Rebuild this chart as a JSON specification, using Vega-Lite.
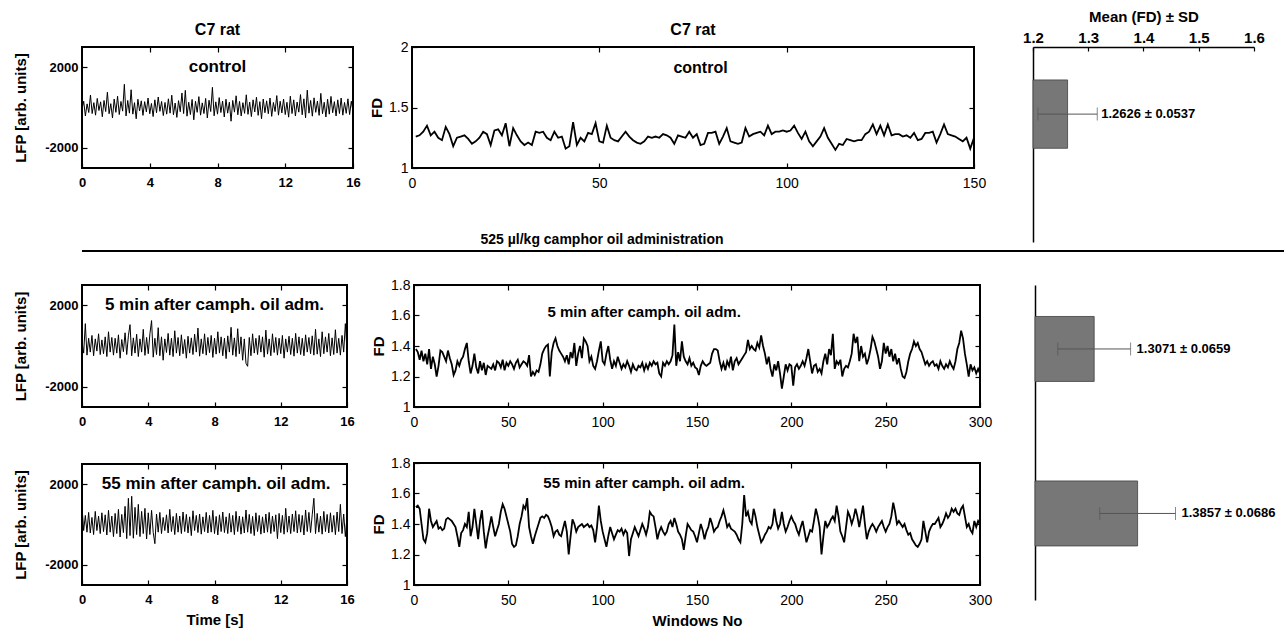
{
"$schema": "https://vega.github.io/schema/vega-lite/v6.json",
"background": "white",
"padding": {"left": 12, "top": 9, "right": 0, "bottom": 0},
"spacing": -9,
"config": {
 "font": "Liberation Sans",
 "view": {"stroke": "black", "strokeWidth": 2},
 "axis": {"grid": false, "domain": false, "labelColor": "black", "titleColor": "black", "tickColor": "black", "tickWidth": 1.2, "tickSize": -5, "labelPadding": 9, "labelFlush": false, "labelOverlap": false, "labelFont": "Liberation Sans", "titleFont": "Liberation Sans", "titleFontWeight": "bold", "titleFontSize": 15},
 "title": {"font": "Liberation Sans", "fontSize": 16, "fontWeight": "bold", "color": "black"},
 "text": {"font": "Liberation Sans"}
},
"datasets": {
"lfpC": [{"t":0,"v":-80},{"t":0.1,"v":310},{"t":0.2,"v":-420},{"t":0.3,"v":180},{"t":0.4,"v":-250},{"t":0.5,"v":620},{"t":0.6,"v":-300},{"t":0.7,"v":240},{"t":0.8,"v":-380},{"t":0.9,"v":450},{"t":1,"v":-150},{"t":1.1,"v":280},{"t":1.2,"v":-460},{"t":1.3,"v":350},{"t":1.4,"v":-200},{"t":1.5,"v":760},{"t":1.6,"v":-310},{"t":1.7,"v":190},{"t":1.8,"v":-520},{"t":1.9,"v":420},{"t":2,"v":-240},{"t":2.1,"v":560},{"t":2.2,"v":-350},{"t":2.3,"v":300},{"t":2.4,"v":-180},{"t":2.5,"v":1150},{"t":2.6,"v":-420},{"t":2.7,"v":350},{"t":2.8,"v":-280},{"t":2.9,"v":880},{"t":3,"v":-330},{"t":3.1,"v":240},{"t":3.2,"v":-560},{"t":3.3,"v":410},{"t":3.4,"v":-170},{"t":3.5,"v":330},{"t":3.6,"v":-390},{"t":3.7,"v":290},{"t":3.8,"v":-220},{"t":3.9,"v":470},{"t":4,"v":-310},{"t":4.1,"v":200},{"t":4.2,"v":-450},{"t":4.3,"v":380},{"t":4.4,"v":-260},{"t":4.5,"v":520},{"t":4.6,"v":-190},{"t":4.7,"v":300},{"t":4.8,"v":-400},{"t":4.9,"v":250},{"t":5,"v":-330},{"t":5.1,"v":430},{"t":5.2,"v":-280},{"t":5.3,"v":610},{"t":5.4,"v":-360},{"t":5.5,"v":220},{"t":5.6,"v":-490},{"t":5.7,"v":340},{"t":5.8,"v":-210},{"t":5.9,"v":720},{"t":6,"v":-300},{"t":6.1,"v":850},{"t":6.2,"v":-430},{"t":6.3,"v":260},{"t":6.4,"v":-350},{"t":6.5,"v":400},{"t":6.6,"v":-610},{"t":6.7,"v":310},{"t":6.8,"v":-240},{"t":6.9,"v":540},{"t":7,"v":-380},{"t":7.1,"v":230},{"t":7.2,"v":-300},{"t":7.3,"v":450},{"t":7.4,"v":-520},{"t":7.5,"v":360},{"t":7.6,"v":-200},{"t":7.7,"v":1000},{"t":7.8,"v":-410},{"t":7.9,"v":280},{"t":8,"v":-330},{"t":8.1,"v":490},{"t":8.2,"v":-250},{"t":8.3,"v":320},{"t":8.4,"v":-470},{"t":8.5,"v":410},{"t":8.6,"v":-280},{"t":8.7,"v":260},{"t":8.8,"v":-680},{"t":8.9,"v":350},{"t":9,"v":-230},{"t":9.1,"v":580},{"t":9.2,"v":-360},{"t":9.3,"v":300},{"t":9.4,"v":-420},{"t":9.5,"v":240},{"t":9.6,"v":-290},{"t":9.7,"v":630},{"t":9.8,"v":-340},{"t":9.9,"v":270},{"t":10,"v":-450},{"t":10.1,"v":380},{"t":10.2,"v":-220},{"t":10.3,"v":510},{"t":10.4,"v":-390},{"t":10.5,"v":290},{"t":10.6,"v":-560},{"t":10.7,"v":420},{"t":10.8,"v":-260},{"t":10.9,"v":330},{"t":11,"v":-310},{"t":11.1,"v":470},{"t":11.2,"v":-440},{"t":11.3,"v":250},{"t":11.4,"v":-200},{"t":11.5,"v":590},{"t":11.6,"v":-380},{"t":11.7,"v":310},{"t":11.8,"v":-270},{"t":11.9,"v":420},{"t":12,"v":-350},{"t":12.1,"v":260},{"t":12.2,"v":-480},{"t":12.3,"v":560},{"t":12.4,"v":-300},{"t":12.5,"v":380},{"t":12.6,"v":-420},{"t":12.7,"v":270},{"t":12.8,"v":-230},{"t":12.9,"v":640},{"t":13,"v":-360},{"t":13.1,"v":430},{"t":13.2,"v":-510},{"t":13.3,"v":860},{"t":13.4,"v":-280},{"t":13.5,"v":350},{"t":13.6,"v":-430},{"t":13.7,"v":480},{"t":13.8,"v":-240},{"t":13.9,"v":320},{"t":14,"v":-390},{"t":14.1,"v":700},{"t":14.2,"v":-310},{"t":14.3,"v":260},{"t":14.4,"v":-470},{"t":14.5,"v":410},{"t":14.6,"v":-330},{"t":14.7,"v":550},{"t":14.8,"v":-260},{"t":14.9,"v":290},{"t":15,"v":-420},{"t":15.1,"v":380},{"t":15.2,"v":-300},{"t":15.3,"v":470},{"t":15.4,"v":-380},{"t":15.5,"v":250},{"t":15.6,"v":-290},{"t":15.7,"v":430},{"t":15.8,"v":-350},{"t":15.9,"v":310},{"t":16,"v":-200}],
"lfp5": [{"t":0,"v":200},{"t":0.1,"v":-350},{"t":0.2,"v":1100},{"t":0.3,"v":-450},{"t":0.4,"v":380},{"t":0.5,"v":-300},{"t":0.6,"v":520},{"t":0.7,"v":-480},{"t":0.8,"v":350},{"t":0.9,"v":-250},{"t":1,"v":600},{"t":1.1,"v":-420},{"t":1.2,"v":300},{"t":1.3,"v":-380},{"t":1.4,"v":450},{"t":1.5,"v":-520},{"t":1.6,"v":700},{"t":1.7,"v":-300},{"t":1.8,"v":420},{"t":1.9,"v":-450},{"t":2,"v":380},{"t":2.1,"v":-350},{"t":2.2,"v":550},{"t":2.3,"v":-600},{"t":2.4,"v":320},{"t":2.5,"v":-280},{"t":2.6,"v":650},{"t":2.7,"v":-420},{"t":2.8,"v":500},{"t":2.9,"v":1050},{"t":3,"v":-480},{"t":3.1,"v":400},{"t":3.2,"v":-350},{"t":3.3,"v":580},{"t":3.4,"v":-520},{"t":3.5,"v":350},{"t":3.6,"v":-300},{"t":3.7,"v":820},{"t":3.8,"v":-460},{"t":3.9,"v":420},{"t":4,"v":-380},{"t":4.1,"v":600},{"t":4.2,"v":1250},{"t":4.3,"v":-550},{"t":4.4,"v":380},{"t":4.5,"v":-420},{"t":4.6,"v":900},{"t":4.7,"v":-480},{"t":4.8,"v":450},{"t":4.9,"v":-700},{"t":5,"v":350},{"t":5.1,"v":-320},{"t":5.2,"v":620},{"t":5.3,"v":-450},{"t":5.4,"v":380},{"t":5.5,"v":-520},{"t":5.6,"v":750},{"t":5.7,"v":-350},{"t":5.8,"v":420},{"t":5.9,"v":-480},{"t":6,"v":550},{"t":6.1,"v":-380},{"t":6.2,"v":320},{"t":6.3,"v":-600},{"t":6.4,"v":480},{"t":6.5,"v":-350},{"t":6.6,"v":400},{"t":6.7,"v":-420},{"t":6.8,"v":580},{"t":6.9,"v":-300},{"t":7,"v":880},{"t":7.1,"v":-500},{"t":7.2,"v":350},{"t":7.3,"v":-380},{"t":7.4,"v":600},{"t":7.5,"v":-450},{"t":7.6,"v":420},{"t":7.7,"v":-330},{"t":7.8,"v":520},{"t":7.9,"v":-560},{"t":8,"v":380},{"t":8.1,"v":-400},{"t":8.2,"v":700},{"t":8.3,"v":-350},{"t":8.4,"v":450},{"t":8.5,"v":-480},{"t":8.6,"v":380},{"t":8.7,"v":-620},{"t":8.8,"v":500},{"t":8.9,"v":-300},{"t":9,"v":920},{"t":9.1,"v":-450},{"t":9.2,"v":400},{"t":9.3,"v":-520},{"t":9.4,"v":850},{"t":9.5,"v":-380},{"t":9.6,"v":450},{"t":9.7,"v":-700},{"t":9.8,"v":350},{"t":9.9,"v":-850},{"t":10,"v":-1000},{"t":10.1,"v":420},{"t":10.2,"v":-480},{"t":10.3,"v":600},{"t":10.4,"v":-350},{"t":10.5,"v":380},{"t":10.6,"v":-420},{"t":10.7,"v":520},{"t":10.8,"v":-300},{"t":10.9,"v":450},{"t":11,"v":-550},{"t":11.1,"v":780},{"t":11.2,"v":-400},{"t":11.3,"v":350},{"t":11.4,"v":-480},{"t":11.5,"v":600},{"t":11.6,"v":-320},{"t":11.7,"v":420},{"t":11.8,"v":-450},{"t":11.9,"v":380},{"t":12,"v":-380},{"t":12.1,"v":520},{"t":12.2,"v":-600},{"t":12.3,"v":350},{"t":12.4,"v":-300},{"t":12.5,"v":480},{"t":12.6,"v":-420},{"t":12.7,"v":380},{"t":12.8,"v":-500},{"t":12.9,"v":620},{"t":13,"v":-350},{"t":13.1,"v":450},{"t":13.2,"v":-420},{"t":13.3,"v":380},{"t":13.4,"v":-480},{"t":13.5,"v":550},{"t":13.6,"v":-300},{"t":13.7,"v":420},{"t":13.8,"v":-380},{"t":13.9,"v":500},{"t":14,"v":-450},{"t":14.1,"v":820},{"t":14.2,"v":-400},{"t":14.3,"v":350},{"t":14.4,"v":-520},{"t":14.5,"v":700},{"t":14.6,"v":-380},{"t":14.7,"v":450},{"t":14.8,"v":-300},{"t":14.9,"v":620},{"t":15,"v":-480},{"t":15.1,"v":400},{"t":15.2,"v":-420},{"t":15.3,"v":800},{"t":15.4,"v":-350},{"t":15.5,"v":380},{"t":15.6,"v":-450},{"t":15.7,"v":520},{"t":15.8,"v":-300},{"t":15.9,"v":1100},{"t":16,"v":-250}],
"lfp55": [{"t":0,"v":900},{"t":0.1,"v":-300},{"t":0.2,"v":450},{"t":0.3,"v":-380},{"t":0.4,"v":600},{"t":0.5,"v":-420},{"t":0.6,"v":350},{"t":0.7,"v":-500},{"t":0.8,"v":650},{"t":0.9,"v":-300},{"t":1,"v":420},{"t":1.1,"v":-450},{"t":1.2,"v":580},{"t":1.3,"v":-350},{"t":1.4,"v":480},{"t":1.5,"v":-520},{"t":1.6,"v":700},{"t":1.7,"v":-380},{"t":1.8,"v":420},{"t":1.9,"v":-600},{"t":2,"v":550},{"t":2.1,"v":-450},{"t":2.2,"v":750},{"t":2.3,"v":-620},{"t":2.4,"v":500},{"t":2.5,"v":-400},{"t":2.6,"v":900},{"t":2.7,"v":-700},{"t":2.8,"v":1300},{"t":2.9,"v":-550},{"t":3,"v":1400},{"t":3.1,"v":-680},{"t":3.2,"v":850},{"t":3.3,"v":-500},{"t":3.4,"v":1000},{"t":3.5,"v":-600},{"t":3.6,"v":650},{"t":3.7,"v":-450},{"t":3.8,"v":800},{"t":3.9,"v":-720},{"t":4,"v":580},{"t":4.1,"v":-500},{"t":4.2,"v":700},{"t":4.3,"v":-400},{"t":4.4,"v":-950},{"t":4.5,"v":520},{"t":4.6,"v":-380},{"t":4.7,"v":600},{"t":4.8,"v":-450},{"t":4.9,"v":350},{"t":5,"v":-300},{"t":5.1,"v":480},{"t":5.2,"v":-420},{"t":5.3,"v":750},{"t":5.4,"v":-350},{"t":5.5,"v":400},{"t":5.6,"v":-500},{"t":5.7,"v":550},{"t":5.8,"v":-380},{"t":5.9,"v":420},{"t":6,"v":-450},{"t":6.1,"v":620},{"t":6.2,"v":-350},{"t":6.3,"v":500},{"t":6.4,"v":-420},{"t":6.5,"v":380},{"t":6.6,"v":-550},{"t":6.7,"v":680},{"t":6.8,"v":-300},{"t":6.9,"v":450},{"t":7,"v":-400},{"t":7.1,"v":520},{"t":7.2,"v":-480},{"t":7.3,"v":380},{"t":7.4,"v":-350},{"t":7.5,"v":600},{"t":7.6,"v":-420},{"t":7.7,"v":450},{"t":7.8,"v":-380},{"t":7.9,"v":700},{"t":8,"v":-450},{"t":8.1,"v":400},{"t":8.2,"v":-520},{"t":8.3,"v":480},{"t":8.4,"v":-350},{"t":8.5,"v":620},{"t":8.6,"v":-400},{"t":8.7,"v":380},{"t":8.8,"v":-450},{"t":8.9,"v":550},{"t":9,"v":-380},{"t":9.1,"v":450},{"t":9.2,"v":-500},{"t":9.3,"v":650},{"t":9.4,"v":-350},{"t":9.5,"v":420},{"t":9.6,"v":-480},{"t":9.7,"v":380},{"t":9.8,"v":-420},{"t":9.9,"v":720},{"t":10,"v":-380},{"t":10.1,"v":500},{"t":10.2,"v":-450},{"t":10.3,"v":400},{"t":10.4,"v":-550},{"t":10.5,"v":580},{"t":10.6,"v":-350},{"t":10.7,"v":450},{"t":10.8,"v":-480},{"t":10.9,"v":380},{"t":11,"v":-420},{"t":11.1,"v":520},{"t":11.2,"v":-380},{"t":11.3,"v":600},{"t":11.4,"v":-450},{"t":11.5,"v":420},{"t":11.6,"v":-350},{"t":11.7,"v":480},{"t":11.8,"v":-700},{"t":11.9,"v":550},{"t":12,"v":-400},{"t":12.1,"v":450},{"t":12.2,"v":-480},{"t":12.3,"v":800},{"t":12.4,"v":-380},{"t":12.5,"v":420},{"t":12.6,"v":-450},{"t":12.7,"v":520},{"t":12.8,"v":-350},{"t":12.9,"v":680},{"t":13,"v":-420},{"t":13.1,"v":500},{"t":13.2,"v":-380},{"t":13.3,"v":450},{"t":13.4,"v":-520},{"t":13.5,"v":720},{"t":13.6,"v":-350},{"t":13.7,"v":600},{"t":13.8,"v":-400},{"t":13.9,"v":480},{"t":14,"v":1300},{"t":14.1,"v":-450},{"t":14.2,"v":550},{"t":14.3,"v":-380},{"t":14.4,"v":420},{"t":14.5,"v":-480},{"t":14.6,"v":650},{"t":14.7,"v":-350},{"t":14.8,"v":500},{"t":14.9,"v":-420},{"t":15,"v":580},{"t":15.1,"v":-380},{"t":15.2,"v":450},{"t":15.3,"v":-500},{"t":15.4,"v":620},{"t":15.5,"v":-350},{"t":15.6,"v":1000},{"t":15.7,"v":-450},{"t":15.8,"v":520},{"t":15.9,"v":-600},{"t":16,"v":400}],
"fdC": [{"w":1,"fd":1.26},{"w":2,"fd":1.27},{"w":3,"fd":1.3},{"w":4,"fd":1.35},{"w":5,"fd":1.27},{"w":6,"fd":1.3},{"w":7,"fd":1.25},{"w":8,"fd":1.23},{"w":9,"fd":1.34},{"w":10,"fd":1.28},{"w":11,"fd":1.18},{"w":12,"fd":1.25},{"w":13,"fd":1.26},{"w":14,"fd":1.27},{"w":15,"fd":1.24},{"w":16,"fd":1.2},{"w":17,"fd":1.22},{"w":18,"fd":1.25},{"w":19,"fd":1.3},{"w":20,"fd":1.28},{"w":21,"fd":1.19},{"w":22,"fd":1.31},{"w":23,"fd":1.32},{"w":24,"fd":1.27},{"w":25,"fd":1.37},{"w":26,"fd":1.18},{"w":27,"fd":1.33},{"w":28,"fd":1.27},{"w":29,"fd":1.22},{"w":30,"fd":1.19},{"w":31,"fd":1.21},{"w":32,"fd":1.19},{"w":33,"fd":1.3},{"w":34,"fd":1.29},{"w":35,"fd":1.3},{"w":36,"fd":1.25},{"w":37,"fd":1.23},{"w":38,"fd":1.3},{"w":39,"fd":1.25},{"w":40,"fd":1.26},{"w":41,"fd":1.16},{"w":42,"fd":1.18},{"w":43,"fd":1.38},{"w":44,"fd":1.19},{"w":45,"fd":1.25},{"w":46,"fd":1.22},{"w":47,"fd":1.29},{"w":48,"fd":1.28},{"w":49,"fd":1.37},{"w":50,"fd":1.22},{"w":51,"fd":1.21},{"w":52,"fd":1.35},{"w":53,"fd":1.25},{"w":54,"fd":1.23},{"w":55,"fd":1.22},{"w":56,"fd":1.26},{"w":57,"fd":1.3},{"w":58,"fd":1.26},{"w":59,"fd":1.23},{"w":60,"fd":1.21},{"w":61,"fd":1.2},{"w":62,"fd":1.22},{"w":63,"fd":1.26},{"w":64,"fd":1.25},{"w":65,"fd":1.26},{"w":66,"fd":1.25},{"w":67,"fd":1.28},{"w":68,"fd":1.27},{"w":69,"fd":1.25},{"w":70,"fd":1.2},{"w":71,"fd":1.27},{"w":72,"fd":1.26},{"w":73,"fd":1.25},{"w":74,"fd":1.3},{"w":75,"fd":1.25},{"w":76,"fd":1.28},{"w":77,"fd":1.19},{"w":78,"fd":1.2},{"w":79,"fd":1.29},{"w":80,"fd":1.29},{"w":81,"fd":1.3},{"w":82,"fd":1.2},{"w":83,"fd":1.26},{"w":84,"fd":1.33},{"w":85,"fd":1.22},{"w":86,"fd":1.21},{"w":87,"fd":1.2},{"w":88,"fd":1.21},{"w":89,"fd":1.33},{"w":90,"fd":1.26},{"w":91,"fd":1.28},{"w":92,"fd":1.29},{"w":93,"fd":1.3},{"w":94,"fd":1.27},{"w":95,"fd":1.35},{"w":96,"fd":1.28},{"w":97,"fd":1.3},{"w":98,"fd":1.3},{"w":99,"fd":1.31},{"w":100,"fd":1.3},{"w":101,"fd":1.31},{"w":102,"fd":1.35},{"w":103,"fd":1.29},{"w":104,"fd":1.24},{"w":105,"fd":1.3},{"w":106,"fd":1.22},{"w":107,"fd":1.18},{"w":108,"fd":1.22},{"w":109,"fd":1.26},{"w":110,"fd":1.33},{"w":111,"fd":1.25},{"w":112,"fd":1.2},{"w":113,"fd":1.15},{"w":114,"fd":1.2},{"w":115,"fd":1.19},{"w":116,"fd":1.24},{"w":117,"fd":1.23},{"w":118,"fd":1.22},{"w":119,"fd":1.23},{"w":120,"fd":1.23},{"w":121,"fd":1.28},{"w":122,"fd":1.3},{"w":123,"fd":1.36},{"w":124,"fd":1.28},{"w":125,"fd":1.35},{"w":126,"fd":1.27},{"w":127,"fd":1.36},{"w":128,"fd":1.27},{"w":129,"fd":1.28},{"w":130,"fd":1.28},{"w":131,"fd":1.26},{"w":132,"fd":1.27},{"w":133,"fd":1.25},{"w":134,"fd":1.29},{"w":135,"fd":1.23},{"w":136,"fd":1.24},{"w":137,"fd":1.29},{"w":138,"fd":1.29},{"w":139,"fd":1.3},{"w":140,"fd":1.21},{"w":141,"fd":1.28},{"w":142,"fd":1.36},{"w":143,"fd":1.28},{"w":144,"fd":1.27},{"w":145,"fd":1.26},{"w":146,"fd":1.24},{"w":147,"fd":1.22},{"w":148,"fd":1.25},{"w":149,"fd":1.16},{"w":150,"fd":1.25}],
"fd5": [{"w":1,"fd":1.38},{"w":2,"fd":1.36},{"w":3,"fd":1.31},{"w":4,"fd":1.37},{"w":5,"fd":1.3},{"w":6,"fd":1.35},{"w":7,"fd":1.28},{"w":8,"fd":1.38},{"w":9,"fd":1.25},{"w":10,"fd":1.33},{"w":11,"fd":1.28},{"w":12,"fd":1.2},{"w":13,"fd":1.27},{"w":14,"fd":1.37},{"w":15,"fd":1.36},{"w":16,"fd":1.33},{"w":17,"fd":1.3},{"w":18,"fd":1.37},{"w":19,"fd":1.32},{"w":20,"fd":1.28},{"w":21,"fd":1.21},{"w":22,"fd":1.24},{"w":23,"fd":1.3},{"w":24,"fd":1.27},{"w":25,"fd":1.31},{"w":26,"fd":1.33},{"w":27,"fd":1.38},{"w":28,"fd":1.42},{"w":29,"fd":1.3},{"w":30,"fd":1.22},{"w":31,"fd":1.27},{"w":32,"fd":1.35},{"w":33,"fd":1.26},{"w":34,"fd":1.22},{"w":35,"fd":1.3},{"w":36,"fd":1.24},{"w":37,"fd":1.29},{"w":38,"fd":1.21},{"w":39,"fd":1.27},{"w":40,"fd":1.26},{"w":41,"fd":1.25},{"w":42,"fd":1.28},{"w":43,"fd":1.24},{"w":44,"fd":1.3},{"w":45,"fd":1.29},{"w":46,"fd":1.26},{"w":47,"fd":1.31},{"w":48,"fd":1.24},{"w":49,"fd":1.29},{"w":50,"fd":1.27},{"w":51,"fd":1.3},{"w":52,"fd":1.28},{"w":53,"fd":1.25},{"w":54,"fd":1.29},{"w":55,"fd":1.31},{"w":56,"fd":1.26},{"w":57,"fd":1.28},{"w":58,"fd":1.3},{"w":59,"fd":1.29},{"w":60,"fd":1.27},{"w":61,"fd":1.34},{"w":62,"fd":1.2},{"w":63,"fd":1.23},{"w":64,"fd":1.21},{"w":65,"fd":1.24},{"w":66,"fd":1.23},{"w":67,"fd":1.28},{"w":68,"fd":1.35},{"w":69,"fd":1.38},{"w":70,"fd":1.4},{"w":71,"fd":1.41},{"w":72,"fd":1.2},{"w":73,"fd":1.36},{"w":74,"fd":1.42},{"w":75,"fd":1.45},{"w":76,"fd":1.4},{"w":77,"fd":1.37},{"w":78,"fd":1.35},{"w":79,"fd":1.33},{"w":80,"fd":1.3},{"w":81,"fd":1.34},{"w":82,"fd":1.28},{"w":83,"fd":1.36},{"w":84,"fd":1.32},{"w":85,"fd":1.42},{"w":86,"fd":1.27},{"w":87,"fd":1.35},{"w":88,"fd":1.4},{"w":89,"fd":1.32},{"w":90,"fd":1.45},{"w":91,"fd":1.43},{"w":92,"fd":1.4},{"w":93,"fd":1.3},{"w":94,"fd":1.33},{"w":95,"fd":1.27},{"w":96,"fd":1.25},{"w":97,"fd":1.3},{"w":98,"fd":1.37},{"w":99,"fd":1.43},{"w":100,"fd":1.3},{"w":101,"fd":1.28},{"w":102,"fd":1.35},{"w":103,"fd":1.4},{"w":104,"fd":1.31},{"w":105,"fd":1.25},{"w":106,"fd":1.3},{"w":107,"fd":1.27},{"w":108,"fd":1.33},{"w":109,"fd":1.29},{"w":110,"fd":1.25},{"w":111,"fd":1.28},{"w":112,"fd":1.26},{"w":113,"fd":1.3},{"w":114,"fd":1.27},{"w":115,"fd":1.23},{"w":116,"fd":1.28},{"w":117,"fd":1.25},{"w":118,"fd":1.24},{"w":119,"fd":1.27},{"w":120,"fd":1.26},{"w":121,"fd":1.29},{"w":122,"fd":1.24},{"w":123,"fd":1.28},{"w":124,"fd":1.25},{"w":125,"fd":1.29},{"w":126,"fd":1.27},{"w":127,"fd":1.3},{"w":128,"fd":1.28},{"w":129,"fd":1.29},{"w":130,"fd":1.22},{"w":131,"fd":1.2},{"w":132,"fd":1.29},{"w":133,"fd":1.27},{"w":134,"fd":1.3},{"w":135,"fd":1.28},{"w":136,"fd":1.3},{"w":137,"fd":1.34},{"w":138,"fd":1.54},{"w":139,"fd":1.27},{"w":140,"fd":1.36},{"w":141,"fd":1.3},{"w":142,"fd":1.43},{"w":143,"fd":1.33},{"w":144,"fd":1.3},{"w":145,"fd":1.28},{"w":146,"fd":1.32},{"w":147,"fd":1.27},{"w":148,"fd":1.29},{"w":149,"fd":1.26},{"w":150,"fd":1.25},{"w":151,"fd":1.21},{"w":152,"fd":1.27},{"w":153,"fd":1.3},{"w":154,"fd":1.28},{"w":155,"fd":1.27},{"w":156,"fd":1.28},{"w":157,"fd":1.29},{"w":158,"fd":1.35},{"w":159,"fd":1.38},{"w":160,"fd":1.38},{"w":161,"fd":1.37},{"w":162,"fd":1.3},{"w":163,"fd":1.25},{"w":164,"fd":1.29},{"w":165,"fd":1.24},{"w":166,"fd":1.3},{"w":167,"fd":1.27},{"w":168,"fd":1.33},{"w":169,"fd":1.24},{"w":170,"fd":1.3},{"w":171,"fd":1.32},{"w":172,"fd":1.28},{"w":173,"fd":1.3},{"w":174,"fd":1.32},{"w":175,"fd":1.34},{"w":176,"fd":1.36},{"w":177,"fd":1.44},{"w":178,"fd":1.38},{"w":179,"fd":1.4},{"w":180,"fd":1.38},{"w":181,"fd":1.37},{"w":182,"fd":1.42},{"w":183,"fd":1.39},{"w":184,"fd":1.47},{"w":185,"fd":1.4},{"w":186,"fd":1.35},{"w":187,"fd":1.28},{"w":188,"fd":1.33},{"w":189,"fd":1.25},{"w":190,"fd":1.2},{"w":191,"fd":1.28},{"w":192,"fd":1.24},{"w":193,"fd":1.3},{"w":194,"fd":1.22},{"w":195,"fd":1.12},{"w":196,"fd":1.2},{"w":197,"fd":1.28},{"w":198,"fd":1.24},{"w":199,"fd":1.28},{"w":200,"fd":1.27},{"w":201,"fd":1.14},{"w":202,"fd":1.26},{"w":203,"fd":1.28},{"w":204,"fd":1.25},{"w":205,"fd":1.27},{"w":206,"fd":1.3},{"w":207,"fd":1.27},{"w":208,"fd":1.32},{"w":209,"fd":1.38},{"w":210,"fd":1.3},{"w":211,"fd":1.22},{"w":212,"fd":1.27},{"w":213,"fd":1.28},{"w":214,"fd":1.23},{"w":215,"fd":1.25},{"w":216,"fd":1.22},{"w":217,"fd":1.3},{"w":218,"fd":1.35},{"w":219,"fd":1.28},{"w":220,"fd":1.38},{"w":221,"fd":1.34},{"w":222,"fd":1.48},{"w":223,"fd":1.25},{"w":224,"fd":1.3},{"w":225,"fd":1.28},{"w":226,"fd":1.31},{"w":227,"fd":1.2},{"w":228,"fd":1.25},{"w":229,"fd":1.27},{"w":230,"fd":1.26},{"w":231,"fd":1.3},{"w":232,"fd":1.35},{"w":233,"fd":1.48},{"w":234,"fd":1.42},{"w":235,"fd":1.46},{"w":236,"fd":1.3},{"w":237,"fd":1.4},{"w":238,"fd":1.33},{"w":239,"fd":1.35},{"w":240,"fd":1.28},{"w":241,"fd":1.32},{"w":242,"fd":1.38},{"w":243,"fd":1.46},{"w":244,"fd":1.43},{"w":245,"fd":1.38},{"w":246,"fd":1.33},{"w":247,"fd":1.25},{"w":248,"fd":1.3},{"w":249,"fd":1.42},{"w":250,"fd":1.35},{"w":251,"fd":1.4},{"w":252,"fd":1.33},{"w":253,"fd":1.38},{"w":254,"fd":1.3},{"w":255,"fd":1.35},{"w":256,"fd":1.28},{"w":257,"fd":1.32},{"w":258,"fd":1.25},{"w":259,"fd":1.2},{"w":260,"fd":1.19},{"w":261,"fd":1.23},{"w":262,"fd":1.3},{"w":263,"fd":1.35},{"w":264,"fd":1.38},{"w":265,"fd":1.43},{"w":266,"fd":1.4},{"w":267,"fd":1.42},{"w":268,"fd":1.38},{"w":269,"fd":1.36},{"w":270,"fd":1.32},{"w":271,"fd":1.28},{"w":272,"fd":1.3},{"w":273,"fd":1.27},{"w":274,"fd":1.29},{"w":275,"fd":1.3},{"w":276,"fd":1.27},{"w":277,"fd":1.28},{"w":278,"fd":1.25},{"w":279,"fd":1.3},{"w":280,"fd":1.27},{"w":281,"fd":1.25},{"w":282,"fd":1.28},{"w":283,"fd":1.26},{"w":284,"fd":1.3},{"w":285,"fd":1.27},{"w":286,"fd":1.25},{"w":287,"fd":1.3},{"w":288,"fd":1.38},{"w":289,"fd":1.42},{"w":290,"fd":1.5},{"w":291,"fd":1.45},{"w":292,"fd":1.35},{"w":293,"fd":1.28},{"w":294,"fd":1.2},{"w":295,"fd":1.28},{"w":296,"fd":1.24},{"w":297,"fd":1.26},{"w":298,"fd":1.22},{"w":299,"fd":1.25},{"w":300,"fd":1.22}],
"fd55": [{"w":1,"fd":1.51},{"w":2,"fd":1.52},{"w":3,"fd":1.5},{"w":4,"fd":1.4},{"w":5,"fd":1.3},{"w":6,"fd":1.28},{"w":7,"fd":1.34},{"w":8,"fd":1.5},{"w":9,"fd":1.42},{"w":10,"fd":1.38},{"w":11,"fd":1.4},{"w":12,"fd":1.42},{"w":13,"fd":1.37},{"w":14,"fd":1.38},{"w":15,"fd":1.36},{"w":16,"fd":1.37},{"w":17,"fd":1.43},{"w":18,"fd":1.44},{"w":19,"fd":1.43},{"w":20,"fd":1.42},{"w":21,"fd":1.4},{"w":22,"fd":1.38},{"w":23,"fd":1.32},{"w":24,"fd":1.25},{"w":25,"fd":1.34},{"w":26,"fd":1.36},{"w":27,"fd":1.4},{"w":28,"fd":1.38},{"w":29,"fd":1.48},{"w":30,"fd":1.32},{"w":31,"fd":1.38},{"w":32,"fd":1.5},{"w":33,"fd":1.4},{"w":34,"fd":1.3},{"w":35,"fd":1.42},{"w":36,"fd":1.49},{"w":37,"fd":1.35},{"w":38,"fd":1.24},{"w":39,"fd":1.32},{"w":40,"fd":1.38},{"w":41,"fd":1.45},{"w":42,"fd":1.38},{"w":43,"fd":1.32},{"w":44,"fd":1.36},{"w":45,"fd":1.4},{"w":46,"fd":1.48},{"w":47,"fd":1.53},{"w":48,"fd":1.5},{"w":49,"fd":1.45},{"w":50,"fd":1.4},{"w":51,"fd":1.35},{"w":52,"fd":1.27},{"w":53,"fd":1.25},{"w":54,"fd":1.26},{"w":55,"fd":1.32},{"w":56,"fd":1.4},{"w":57,"fd":1.45},{"w":58,"fd":1.52},{"w":59,"fd":1.5},{"w":60,"fd":1.57},{"w":61,"fd":1.38},{"w":62,"fd":1.32},{"w":63,"fd":1.27},{"w":64,"fd":1.32},{"w":65,"fd":1.36},{"w":66,"fd":1.4},{"w":67,"fd":1.44},{"w":68,"fd":1.45},{"w":69,"fd":1.44},{"w":70,"fd":1.46},{"w":71,"fd":1.45},{"w":72,"fd":1.42},{"w":73,"fd":1.38},{"w":74,"fd":1.32},{"w":75,"fd":1.35},{"w":76,"fd":1.36},{"w":77,"fd":1.33},{"w":78,"fd":1.32},{"w":79,"fd":1.37},{"w":80,"fd":1.42},{"w":81,"fd":1.35},{"w":82,"fd":1.2},{"w":83,"fd":1.32},{"w":84,"fd":1.43},{"w":85,"fd":1.4},{"w":86,"fd":1.35},{"w":87,"fd":1.38},{"w":88,"fd":1.39},{"w":89,"fd":1.4},{"w":90,"fd":1.38},{"w":91,"fd":1.39},{"w":92,"fd":1.4},{"w":93,"fd":1.38},{"w":94,"fd":1.39},{"w":95,"fd":1.36},{"w":96,"fd":1.28},{"w":97,"fd":1.38},{"w":98,"fd":1.52},{"w":99,"fd":1.42},{"w":100,"fd":1.35},{"w":101,"fd":1.3},{"w":102,"fd":1.25},{"w":103,"fd":1.32},{"w":104,"fd":1.38},{"w":105,"fd":1.34},{"w":106,"fd":1.3},{"w":107,"fd":1.33},{"w":108,"fd":1.36},{"w":109,"fd":1.35},{"w":110,"fd":1.37},{"w":111,"fd":1.33},{"w":112,"fd":1.36},{"w":113,"fd":1.34},{"w":114,"fd":1.19},{"w":115,"fd":1.3},{"w":116,"fd":1.34},{"w":117,"fd":1.38},{"w":118,"fd":1.35},{"w":119,"fd":1.32},{"w":120,"fd":1.36},{"w":121,"fd":1.4},{"w":122,"fd":1.37},{"w":123,"fd":1.33},{"w":124,"fd":1.38},{"w":125,"fd":1.48},{"w":126,"fd":1.46},{"w":127,"fd":1.45},{"w":128,"fd":1.38},{"w":129,"fd":1.3},{"w":130,"fd":1.35},{"w":131,"fd":1.38},{"w":132,"fd":1.35},{"w":133,"fd":1.33},{"w":134,"fd":1.35},{"w":135,"fd":1.4},{"w":136,"fd":1.42},{"w":137,"fd":1.38},{"w":138,"fd":1.44},{"w":139,"fd":1.4},{"w":140,"fd":1.35},{"w":141,"fd":1.33},{"w":142,"fd":1.3},{"w":143,"fd":1.23},{"w":144,"fd":1.32},{"w":145,"fd":1.4},{"w":146,"fd":1.38},{"w":147,"fd":1.36},{"w":148,"fd":1.35},{"w":149,"fd":1.32},{"w":150,"fd":1.28},{"w":151,"fd":1.34},{"w":152,"fd":1.4},{"w":153,"fd":1.36},{"w":154,"fd":1.3},{"w":155,"fd":1.35},{"w":156,"fd":1.38},{"w":157,"fd":1.44},{"w":158,"fd":1.4},{"w":159,"fd":1.35},{"w":160,"fd":1.37},{"w":161,"fd":1.38},{"w":162,"fd":1.42},{"w":163,"fd":1.45},{"w":164,"fd":1.49},{"w":165,"fd":1.44},{"w":166,"fd":1.38},{"w":167,"fd":1.4},{"w":168,"fd":1.37},{"w":169,"fd":1.36},{"w":170,"fd":1.35},{"w":171,"fd":1.33},{"w":172,"fd":1.3},{"w":173,"fd":1.28},{"w":174,"fd":1.4},{"w":175,"fd":1.59},{"w":176,"fd":1.45},{"w":177,"fd":1.48},{"w":178,"fd":1.42},{"w":179,"fd":1.4},{"w":180,"fd":1.5},{"w":181,"fd":1.45},{"w":182,"fd":1.38},{"w":183,"fd":1.33},{"w":184,"fd":1.28},{"w":185,"fd":1.3},{"w":186,"fd":1.33},{"w":187,"fd":1.35},{"w":188,"fd":1.38},{"w":189,"fd":1.37},{"w":190,"fd":1.4},{"w":191,"fd":1.5},{"w":192,"fd":1.42},{"w":193,"fd":1.37},{"w":194,"fd":1.4},{"w":195,"fd":1.48},{"w":196,"fd":1.4},{"w":197,"fd":1.35},{"w":198,"fd":1.38},{"w":199,"fd":1.42},{"w":200,"fd":1.45},{"w":201,"fd":1.42},{"w":202,"fd":1.4},{"w":203,"fd":1.36},{"w":204,"fd":1.33},{"w":205,"fd":1.38},{"w":206,"fd":1.42},{"w":207,"fd":1.35},{"w":208,"fd":1.28},{"w":209,"fd":1.32},{"w":210,"fd":1.36},{"w":211,"fd":1.35},{"w":212,"fd":1.42},{"w":213,"fd":1.5},{"w":214,"fd":1.45},{"w":215,"fd":1.38},{"w":216,"fd":1.2},{"w":217,"fd":1.32},{"w":218,"fd":1.42},{"w":219,"fd":1.38},{"w":220,"fd":1.4},{"w":221,"fd":1.43},{"w":222,"fd":1.45},{"w":223,"fd":1.42},{"w":224,"fd":1.52},{"w":225,"fd":1.45},{"w":226,"fd":1.35},{"w":227,"fd":1.32},{"w":228,"fd":1.28},{"w":229,"fd":1.38},{"w":230,"fd":1.48},{"w":231,"fd":1.45},{"w":232,"fd":1.4},{"w":233,"fd":1.44},{"w":234,"fd":1.5},{"w":235,"fd":1.45},{"w":236,"fd":1.38},{"w":237,"fd":1.45},{"w":238,"fd":1.52},{"w":239,"fd":1.4},{"w":240,"fd":1.3},{"w":241,"fd":1.35},{"w":242,"fd":1.38},{"w":243,"fd":1.4},{"w":244,"fd":1.38},{"w":245,"fd":1.35},{"w":246,"fd":1.38},{"w":247,"fd":1.4},{"w":248,"fd":1.42},{"w":249,"fd":1.38},{"w":250,"fd":1.35},{"w":251,"fd":1.38},{"w":252,"fd":1.4},{"w":253,"fd":1.45},{"w":254,"fd":1.54},{"w":255,"fd":1.48},{"w":256,"fd":1.4},{"w":257,"fd":1.42},{"w":258,"fd":1.4},{"w":259,"fd":1.38},{"w":260,"fd":1.4},{"w":261,"fd":1.36},{"w":262,"fd":1.33},{"w":263,"fd":1.34},{"w":264,"fd":1.3},{"w":265,"fd":1.28},{"w":266,"fd":1.26},{"w":267,"fd":1.25},{"w":268,"fd":1.27},{"w":269,"fd":1.3},{"w":270,"fd":1.42},{"w":271,"fd":1.35},{"w":272,"fd":1.28},{"w":273,"fd":1.35},{"w":274,"fd":1.38},{"w":275,"fd":1.4},{"w":276,"fd":1.4},{"w":277,"fd":1.42},{"w":278,"fd":1.44},{"w":279,"fd":1.38},{"w":280,"fd":1.4},{"w":281,"fd":1.43},{"w":282,"fd":1.47},{"w":283,"fd":1.44},{"w":284,"fd":1.46},{"w":285,"fd":1.5},{"w":286,"fd":1.48},{"w":287,"fd":1.5},{"w":288,"fd":1.47},{"w":289,"fd":1.46},{"w":290,"fd":1.5},{"w":291,"fd":1.52},{"w":292,"fd":1.45},{"w":293,"fd":1.38},{"w":294,"fd":1.4},{"w":295,"fd":1.36},{"w":296,"fd":1.34},{"w":297,"fd":1.42},{"w":298,"fd":1.38},{"w":299,"fd":1.42},{"w":300,"fd":1.4}],
"barTop": [{"cond":"control","mean":1.2626,"lo":1.2089,"hi":1.3163,"label":"1.2626 ± 0.0537"}],
"barBot": [{"cond":"5 min","mean":1.3071,"lo":1.2412,"hi":1.373,"label":"1.3071 ± 0.0659"},{"cond":"55 min","mean":1.3857,"lo":1.3171,"hi":1.4543,"label":"1.3857 ± 0.0686"}]
},
"vconcat": [
 {"hconcat": [
  {"width": 271, "height": 121, "title": {"text": "C7 rat", "offset": 8},
   "layer": [
    {"data": {"name": "lfpC"}, "mark": {"type": "line", "color": "black", "strokeWidth": 1},
     "encoding": {
      "x": {"field": "t", "type": "quantitative", "scale": {"domain": [0, 16], "nice": false}, "axis": {"orient": "bottom", "values": [0,4,8,12,16], "title": null, "labelPadding": 13, "labelFontSize": 13, "labelFontWeight": "bold", "labelExpr": "'' + datum.value"}},
      "y": {"field": "v", "type": "quantitative", "scale": {"domain": [-3000, 3000], "nice": false}, "axis": {"orient": "left", "values": [-2000, 2000], "title": "LFP [arb. units]", "titlePadding": 16, "labelFontSize": 13, "labelFontWeight": "bold", "labelExpr": "'' + datum.value"}}}},
    {"data": {"values": [{"x": 8, "y": 2000, "label": "control"}]}, "mark": {"type": "text", "fontSize": 17, "fontWeight": "bold", "color": "black"},
     "encoding": {
      "x": {"field": "x", "type": "quantitative", "scale": {"domain": [0, 16], "nice": false}, "axis": {"orient": "top", "values": [4,8,12], "labels": false, "title": null}},
      "y": {"field": "y", "type": "quantitative", "scale": {"domain": [-3000, 3000], "nice": false}, "axis": {"orient": "right", "values": [-2000, 2000], "labels": false, "title": null}},
      "text": {"field": "label"}}}
   ]},
  {"width": 562, "height": 121, "title": {"text": "C7 rat", "offset": 2},
   "layer": [
    {"data": {"name": "fdC"}, "mark": {"type": "line", "color": "black", "strokeWidth": 1.8},
     "encoding": {
      "x": {"field": "w", "type": "quantitative", "scale": {"domain": [0, 150], "nice": false}, "axis": {"orient": "bottom", "values": [0,50,100,150], "title": null, "labelPadding": 13, "labelFontSize": 14, "labelExpr": "'' + datum.value"}},
      "y": {"field": "fd", "type": "quantitative", "scale": {"domain": [1, 2], "nice": false, "zero": false}, "axis": {"orient": "left", "values": [1, 1.5, 2], "title": "FD", "titlePadding": 4, "labelFontSize": 14, "labelExpr": "'' + datum.value"}}}},
    {"data": {"values": [{"x": 77, "y": 1.83, "label": "control"}]}, "mark": {"type": "text", "fontSize": 16, "fontWeight": "bold", "color": "black"},
     "encoding": {
      "x": {"field": "x", "type": "quantitative", "scale": {"domain": [0, 150], "nice": false}, "axis": {"orient": "top", "values": [50,100], "labels": false, "title": null}},
      "y": {"field": "y", "type": "quantitative", "scale": {"domain": [1, 2], "nice": false, "zero": false}, "axis": {"orient": "right", "values": [1.5], "labels": false, "title": null}},
      "text": {"field": "label"}}}
   ]},
  {"width": 221, "height": 195, "view": {"stroke": null},
   "data": {"name": "barTop"},
   "encoding": {"y": {"field": "cond", "type": "nominal", "scale": {"domain": ["control"], "paddingInner": 0, "paddingOuter": 0.926, "align": 0.26}, "axis": {"domain": true, "domainColor": "black", "domainWidth": 1.5, "ticks": false, "labels": false, "title": null}}},
   "layer": [
    {"mark": {"type": "bar", "fill": "#777777", "stroke": "#404040", "strokeWidth": 0.8},
     "encoding": {"x": {"field": "mean", "type": "quantitative", "scale": {"domain": [1.2, 1.6], "nice": false, "zero": false}, "axis": {"orient": "top", "values": [1.2,1.3,1.4,1.5,1.6], "domain": true, "domainColor": "black", "domainWidth": 1.5, "title": "Mean (FD) ± SD", "labelFontSize": 15, "labelFontWeight": "bold", "labelExpr": "'' + datum.value", "tickSize": -4, "labelPadding": 6, "titlePadding": 6}}, "x2": {"datum": 1.2}}},
    {"mark": {"type": "rule", "color": "#555555", "strokeWidth": 1}, "encoding": {"x": {"field": "lo", "type": "quantitative", "scale": {"domain": [1.2, 1.6], "nice": false, "zero": false}, "axis": {"orient": "top", "values": [1.2,1.3,1.4,1.5,1.6], "domain": true, "domainColor": "black", "domainWidth": 1.5, "title": "Mean (FD) ± SD", "labelFontSize": 15, "labelFontWeight": "bold", "labelExpr": "'' + datum.value", "tickSize": -4, "labelPadding": 6, "titlePadding": 6}}, "x2": {"field": "hi"}}},
    {"mark": {"type": "tick", "orient": "vertical", "color": "#555555", "thickness": 1, "size": 13}, "encoding": {"x": {"field": "lo", "type": "quantitative", "scale": {"domain": [1.2, 1.6], "nice": false, "zero": false}, "axis": {"orient": "top", "values": [1.2,1.3,1.4,1.5,1.6], "domain": true, "domainColor": "black", "domainWidth": 1.5, "title": "Mean (FD) ± SD", "labelFontSize": 15, "labelFontWeight": "bold", "labelExpr": "'' + datum.value", "tickSize": -4, "labelPadding": 6, "titlePadding": 6}}}},
    {"mark": {"type": "tick", "orient": "vertical", "color": "#555555", "thickness": 1, "size": 13}, "encoding": {"x": {"field": "hi", "type": "quantitative", "scale": {"domain": [1.2, 1.6], "nice": false, "zero": false}, "axis": {"orient": "top", "values": [1.2,1.3,1.4,1.5,1.6], "domain": true, "domainColor": "black", "domainWidth": 1.5, "title": "Mean (FD) ± SD", "labelFontSize": 15, "labelFontWeight": "bold", "labelExpr": "'' + datum.value", "tickSize": -4, "labelPadding": 6, "titlePadding": 6}}}},
    {"mark": {"type": "text", "align": "left", "baseline": "middle", "dx": 4, "fontSize": 13, "fontWeight": "bold", "color": "black"}, "encoding": {"x": {"field": "hi", "type": "quantitative", "scale": {"domain": [1.2, 1.6], "nice": false, "zero": false}, "axis": {"orient": "top", "values": [1.2,1.3,1.4,1.5,1.6], "domain": true, "domainColor": "black", "domainWidth": 1.5, "title": "Mean (FD) ± SD", "labelFontSize": 15, "labelFontWeight": "bold", "labelExpr": "'' + datum.value", "tickSize": -4, "labelPadding": 6, "titlePadding": 6}}, "text": {"field": "label"}}}
   ]}
 ], "spacing": 59, "bounds": "flush"},
 {"width": 1204, "height": 34, "view": {"stroke": null},
  "title": {"text": "525 µl/kg camphor oil administration", "fontSize": 14, "offset": 3, "dx": -82},
  "data": {"values": [{}]},
  "mark": {"type": "rule", "color": "black", "strokeWidth": 2},
  "encoding": {"y": {"datum": 1, "type": "quantitative", "scale": {"domain": [0, 1]}, "axis": null}}},
 {"hconcat": [
  {"hconcat": [
   {"vconcat": [
    {"width": 265, "height": 122,
     "layer": [
      {"data": {"name": "lfp5"}, "mark": {"type": "line", "color": "black", "strokeWidth": 1},
       "encoding": {
        "x": {"field": "t", "type": "quantitative", "scale": {"domain": [0, 16], "nice": false}, "axis": {"orient": "bottom", "values": [0,4,8,12,16], "title": null, "labelPadding": 13, "labelFontSize": 13, "labelFontWeight": "bold", "labelExpr": "'' + datum.value"}},
        "y": {"field": "v", "type": "quantitative", "scale": {"domain": [-3000, 3000], "nice": false}, "axis": {"orient": "left", "values": [-2000, 2000], "title": "LFP [arb. units]", "titlePadding": 16, "labelFontSize": 13, "labelFontWeight": "bold", "labelExpr": "'' + datum.value"}}}},
      {"data": {"values": [{"x": 8, "y": 2000, "label": "5 min after camph. oil adm."}]}, "mark": {"type": "text", "fontSize": 17, "fontWeight": "bold", "color": "black"},
       "encoding": {
        "x": {"field": "x", "type": "quantitative", "scale": {"domain": [0, 16], "nice": false}, "axis": {"orient": "top", "values": [4,8,12], "labels": false, "title": null}},
        "y": {"field": "y", "type": "quantitative", "scale": {"domain": [-3000, 3000], "nice": false}, "axis": {"orient": "right", "values": [-2000, 2000], "labels": false, "title": null}},
        "text": {"field": "label"}}}
     ]},
    {"width": 265, "height": 121,
     "layer": [
      {"data": {"name": "lfp55"}, "mark": {"type": "line", "color": "black", "strokeWidth": 1},
       "encoding": {
        "x": {"field": "t", "type": "quantitative", "scale": {"domain": [0, 16], "nice": false}, "axis": {"orient": "bottom", "values": [0,4,8,12,16], "title": "Time [s]", "titlePadding": 6, "labelPadding": 13, "labelFontSize": 13, "labelFontWeight": "bold", "labelExpr": "'' + datum.value"}},
        "y": {"field": "v", "type": "quantitative", "scale": {"domain": [-3000, 3000], "nice": false}, "axis": {"orient": "left", "values": [-2000, 2000], "title": "LFP [arb. units]", "titlePadding": 16, "labelFontSize": 13, "labelFontWeight": "bold", "labelExpr": "'' + datum.value"}}}},
      {"data": {"values": [{"x": 8.1, "y": 2000, "label": "55 min after camph. oil adm."}]}, "mark": {"type": "text", "fontSize": 17, "fontWeight": "bold", "color": "black"},
       "encoding": {
        "x": {"field": "x", "type": "quantitative", "scale": {"domain": [0, 16], "nice": false}, "axis": {"orient": "top", "values": [4,8,12], "labels": false, "title": null}},
        "y": {"field": "y", "type": "quantitative", "scale": {"domain": [-3000, 3000], "nice": false}, "axis": {"orient": "right", "values": [-2000, 2000], "labels": false, "title": null}},
        "text": {"field": "label"}}}
     ]}
   ], "spacing": 33},
   {"vconcat": [
    {"width": 566, "height": 122,
     "layer": [
      {"data": {"name": "fd5"}, "mark": {"type": "line", "color": "black", "strokeWidth": 1.8},
       "encoding": {
        "x": {"field": "w", "type": "quantitative", "scale": {"domain": [0, 300], "nice": false}, "axis": {"orient": "bottom", "values": [0,50,100,150,200,250,300], "title": null, "labelPadding": 13, "labelFontSize": 14, "labelExpr": "'' + datum.value"}},
        "y": {"field": "fd", "type": "quantitative", "scale": {"domain": [1, 1.8], "nice": false, "zero": false}, "axis": {"orient": "left", "values": [1, 1.2, 1.4, 1.6, 1.8], "title": "FD", "titlePadding": 4, "labelFontSize": 14, "labelExpr": "'' + datum.value"}}}},
      {"data": {"values": [{"x": 122, "y": 1.62, "label": "5 min after camph. oil adm."}]}, "mark": {"type": "text", "fontSize": 15, "fontWeight": "bold", "color": "black"},
       "encoding": {
        "x": {"field": "x", "type": "quantitative", "scale": {"domain": [0, 300], "nice": false}, "axis": {"orient": "top", "values": [50,100,150,200,250], "labels": false, "title": null}},
        "y": {"field": "y", "type": "quantitative", "scale": {"domain": [1, 1.8], "nice": false, "zero": false}, "axis": {"orient": "right", "values": [1.2, 1.4, 1.6], "labels": false, "title": null}},
        "text": {"field": "label"}}}
     ]},
    {"width": 566, "height": 122,
     "layer": [
      {"data": {"name": "fd55"}, "mark": {"type": "line", "color": "black", "strokeWidth": 1.8},
       "encoding": {
        "x": {"field": "w", "type": "quantitative", "scale": {"domain": [0, 300], "nice": false}, "axis": {"orient": "bottom", "values": [0,50,100,150,200,250,300], "title": "Windows No", "titlePadding": 6, "labelPadding": 13, "labelFontSize": 14, "labelExpr": "'' + datum.value"}},
        "y": {"field": "fd", "type": "quantitative", "scale": {"domain": [1, 1.8], "nice": false, "zero": false}, "axis": {"orient": "left", "values": [1, 1.2, 1.4, 1.6, 1.8], "title": "FD", "titlePadding": 4, "labelFontSize": 14, "labelExpr": "'' + datum.value"}}}},
      {"data": {"values": [{"x": 122, "y": 1.67, "label": "55 min after camph. oil adm."}]}, "mark": {"type": "text", "fontSize": 15, "fontWeight": "bold", "color": "black"},
       "encoding": {
        "x": {"field": "x", "type": "quantitative", "scale": {"domain": [0, 300], "nice": false}, "axis": {"orient": "top", "values": [50,100,150,200,250], "labels": false, "title": null}},
        "y": {"field": "y", "type": "quantitative", "scale": {"domain": [1, 1.8], "nice": false, "zero": false}, "axis": {"orient": "right", "values": [1.2, 1.4, 1.6], "labels": false, "title": null}},
        "text": {"field": "label"}}}
     ]}
   ], "spacing": 25}
  ], "spacing": 14},
  {"width": 221, "height": 315, "view": {"stroke": null},
   "data": {"name": "barBot"},
   "encoding": {"y": {"field": "cond", "type": "nominal", "scale": {"domain": ["5 min", "55 min"], "paddingInner": 0.605, "paddingOuter": 0.26, "align": 0.368}, "axis": {"domain": true, "domainColor": "black", "domainWidth": 1.5, "ticks": false, "labels": false, "title": null}}},
   "layer": [
    {"mark": {"type": "bar", "fill": "#777777", "stroke": "#404040", "strokeWidth": 0.8},
     "encoding": {"x": {"field": "mean", "type": "quantitative", "scale": {"domain": [1.2, 1.6], "nice": false, "zero": false}, "axis": null}, "x2": {"datum": 1.2}}},
    {"mark": {"type": "rule", "color": "#555555", "strokeWidth": 1}, "encoding": {"x": {"field": "lo", "type": "quantitative", "axis": null}, "x2": {"field": "hi"}}},
    {"mark": {"type": "tick", "orient": "vertical", "color": "#555555", "thickness": 1, "size": 13}, "encoding": {"x": {"field": "lo", "type": "quantitative", "axis": null}}},
    {"mark": {"type": "tick", "orient": "vertical", "color": "#555555", "thickness": 1, "size": 13}, "encoding": {"x": {"field": "hi", "type": "quantitative", "axis": null}}},
    {"mark": {"type": "text", "align": "left", "baseline": "middle", "dx": 6, "fontSize": 13, "fontWeight": "bold", "color": "black"}, "encoding": {"x": {"field": "hi", "type": "quantitative", "axis": null}, "text": {"field": "label"}}}
   ]}
 ], "spacing": 41}
]
}
